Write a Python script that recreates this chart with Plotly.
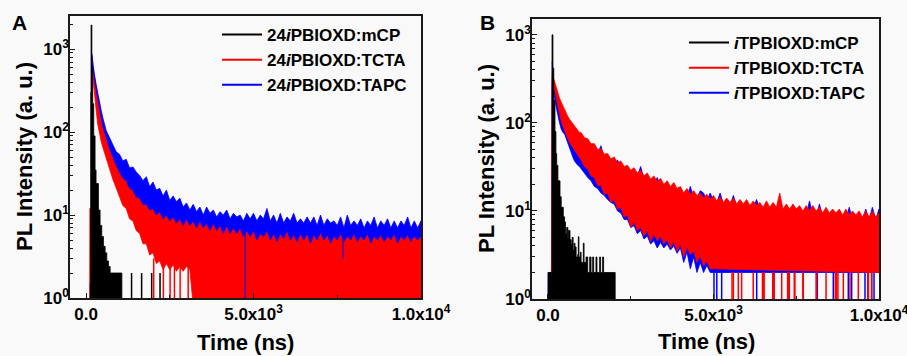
import plotly.graph_objects as go

FONT = "Liberation Sans, Arial, sans-serif"
RED, BLUE, BLACK = "#ff0000", "#0000ff", "#000000"
FLOOR = 0.8   # zero counts are drawn just below the 10^0 floor of the log axis
BG = "#f9f9f9"

# ---------------- Panel A : 24iPBIOXD ----------------
A_NAMES = ["24<i>i</i>PBIOXD:mCP", "24<i>i</i>PBIOXD:TCTA", "24<i>i</i>PBIOXD:TAPC"]
A_T_EARLY = [170, 200, 250, 300, 350, 400, 450, 500, 550, 600, 650, 700, 750, 800, 850, 900, 950]
A_T = A_T_EARLY + list(range(1000, 10001, 100))

# TAPC (blue) upper edge of noise band
A_TAPC_UP = [900, 700, 500, 380, 290, 225, 185, 150, 125, 105, 95, 85, 76, 70, 64, 58, 56,
             54, 45, 47, 37, 38, 33, 30, 26, 29, 22,
             25, 20, 21, 17, 20, 15, 17, 14.5, 16, 12.5,
             14, 11.5, 13.5, 11, 12.5, 10, 12.5, 10.5, 11.5, 9.5,
             11, 10, 11.5, 9, 10.5, 9.5, 10, 8.5, 10.5, 9,
             10.5, 8.5, 10, 9, 12, 8.5, 10, 8, 10.5, 8,
             9.5, 8.5, 10.5, 8, 9, 8, 9.5, 8, 9.5, 7.5,
             10, 7.5, 9, 8, 8.5, 7.5, 9.5, 7, 10, 7.5,
             8.5, 7.5, 9, 7, 8.5, 7.5, 9.5, 7, 8.5, 7.5,
             9, 7, 8.5, 7, 8.5, 7.5, 9.5, 7, 8.5, 7,
             8.5]
# boundary between the blue band (above) and the red band (below)
A_BOUNDARY = [850, 600, 450, 330, 250, 190, 150, 118, 100, 85, 74, 64, 56, 50, 45, 40, 36,
              33, 28, 26, 21, 20, 16.5, 16, 13.5, 13.5, 11.5,
              12, 10, 11, 9, 10, 8.5, 9.5, 8, 9, 7.5,
              9, 7.5, 8.5, 7, 8.5, 7, 8, 6.5, 8, 6.5,
              7.5, 6, 7.5, 6, 7, 6, 7, 5.5, 6.5, 5.5,
              6.5, 5, 6, 5.5, 6.5, 5, 6, 4.8, 6, 5.2,
              6.5, 5, 5.8, 4.8, 6, 5, 6, 4.6, 5.8, 5,
              6.2, 5, 5.8, 4.6, 5.6, 5, 6, 4.8, 5.6, 5,
              6, 4.8, 5.6, 5, 6, 4.6, 5.6, 5, 5.8, 4.8,
              5.6, 5, 6, 4.6, 5.6, 5, 5.8, 4.8, 5.6, 5,
              5.6]
# TCTA (red) rise and lower edge
A_TCTA_PRE_T = [110, 115, 155]
A_TCTA_PRE_V = [0, 12, 12]
A_TCTA_LO_T = [165] + A_T_EARLY + list(range(1000, 3201, 100)) + [10000]
A_TCTA_LO = [0,
             800, 480, 300, 190, 125, 95, 78, 66, 56, 48, 41, 36, 31, 27, 24, 21, 19,
             17, 13, 12, 9, 8.5, 6.5, 6, 4.5, 4.5, 3.3,
             3.5, 2.6, 2.8, 2.2, 2.6, 2.2, 2.5, 2.1, 2.4, 2.1,
             2.4, 2.2, 0,
             0]
A_TCTA_ZERO_T = [2020, 2310, 2510, 2640, 2810, 3050]
A_TCTA_ZERO_TOP = [3, 2.5, 2.4, 2.4, 2.4, 2.3]
A_TAPC_DIP_T = [4750, 7670]
A_TAPC_DIP_TOP = [6, 5.5]
A_TAPC_DIP_LO = [0, 3]
# mCP (black)
A_MCP_T = [100, 125, 140, 150, 175, 200, 230, 270, 300, 370, 420, 470, 520, 570, 620, 670, 720, 1060, 1070]
A_MCP_V = [0, 1.5, 300, 1950, 600, 220, 90, 35, 24, 11.5, 7.5, 5.5, 4.2, 3.5, 2.8, 2.4, 2, 2, 0]
A_MCP_SPIKE_T = [1360, 1660, 1960, 2210]
A_MCP_SPIKE_V = [2, 2, 2, 2]

# ---------------- Panel B : iTPBIOXD ----------------
B_NAMES = ["<i>i</i>TPBIOXD:mCP", "<i>i</i>TPBIOXD:TCTA", "<i>i</i>TPBIOXD:TAPC"]
B_T_EARLY = [130, 160, 200, 250, 300, 350, 400, 450, 500, 550, 600, 650, 700, 750, 800, 850, 900, 950]
B_T = B_T_EARLY + list(range(1000, 10001, 100))
B_T_LO = [125] + B_T_EARLY + list(range(1000, 5001, 100)) + [10000]

B_TCTA_PRE_T = [100, 110, 125]
B_TCTA_PRE_V = [0, 6, 6]
B_TCTA_UP = [370, 330, 290, 250, 215, 190, 172, 155, 140, 128, 118, 110, 104, 98, 92, 87, 82, 78,
             78, 68, 66, 58, 58, 50, 51, 44, 45, 39,
             41, 35, 37, 32, 33, 29, 31, 27, 29, 25,
             27, 23, 25, 21.5, 23.5, 20, 22, 19, 21, 18,
             19, 16, 18, 15.5, 17, 15, 16, 14, 15.5, 13.5,
             15, 13, 14.5, 12.5, 14, 12.5, 14, 12, 13.5, 12,
             13.5, 11.5, 13, 11.5, 12.5, 11, 13, 11, 12.5, 11,
             16, 10.5, 12, 10.5, 12, 10.5, 11.5, 10, 11.5, 10,
             11.5, 10, 11, 9.5, 11, 9.5, 10.5, 9.5, 10.5, 9,
             10.5, 9, 10, 9, 10, 8.5, 10, 8.5, 10, 8.5,
             9.5]
B_TCTA_LO = [0,
             320, 280, 240, 190, 150, 125, 105, 92, 82, 73, 66, 60, 56, 53, 49, 46, 43, 40,
             38, 32, 30, 25, 24, 19.5, 19.5, 15.5, 16, 12.5,
             13.5, 10.5, 11, 8.5, 9, 6.5, 7.5, 6, 6.5, 5.2,
             6, 4.5, 5.5, 4.6, 5.2, 4.2, 4.8, 3.8, 4.5, 3.5,
             4.2, 3, 3.9, 3.2, 3.5, 2.6, 3.1, 2.4, 2.7, 2.2,
             2.2,
             2]
B_TCTA_ZERO_T = [5560, 5600, 5750, 5850, 6200, 6480, 6505, 6530, 6790, 6807, 6830, 7060, 7240, 7260,
                 7290, 7440, 7460, 7700, 7713, 8100, 8118, 8400, 8680, 8720, 8760, 8922, 9124,
                 9375, 9660, 9677, 9778]

B_TAPC_PRE_T = [0, 5, 110, 120]
B_TAPC_PRE_V = [0, 2, 2, 2]
B_TAPC_UP = [500, 260, 240, 210, 180, 160, 140, 125, 112, 102, 94, 86, 80, 75, 70, 66, 62, 60,
             58, 56, 52, 50, 47, 44, 55, 40, 38, 36,
             34, 38, 31, 30, 28, 27, 26, 25, 32, 23,
             22, 21, 20, 24, 19, 18, 17.5, 17, 16.5, 16,
             15.5, 15, 14.5, 19, 14, 14, 17, 16, 13, 16,
             13, 12.5, 16, 12, 12, 11.5, 15, 11.5, 11, 11,
             11, 10.5, 10.5, 13.5, 10.5, 10, 10, 10, 10, 10,
             9.5, 9.5, 9.5, 9.5, 9.5, 9, 9, 9, 9, 13,
             9, 8.5, 12, 8.5, 8.5, 8.5, 8.5, 8, 8, 8,
             8, 11, 8, 8, 8, 8, 10.5, 8, 11, 8,
             10.5]
B_TAPC_LO = [0,
             280, 230, 190, 150, 120, 100, 85, 78, 75, 68, 60, 52, 46, 41, 37, 35, 33, 32,
             31, 27, 24, 22, 19, 18, 16, 15, 13.5, 12.5,
             12, 10, 9.5, 8, 8, 6.5, 6.8, 5.5, 6, 4.8,
             5.2, 4.2, 4.6, 3.8, 4.4, 3.8, 4.2, 3.6, 4, 3.3,
             3.8, 2.6, 3.4, 2.2, 3, 2, 2.6, 2, 2.4, 2,
             2,
             2]
B_TAPC_ZERO_T = [5015, 5100, 5247, 6305, 6828, 8136, 8620, 9073, 9174, 9577, 9677, 9778, 9850]

B_MCP_T = [0, 5, 100, 110, 122, 135, 150, 175, 211, 240,
           262, 300, 363, 400, 463, 500, 530, 564, 600, 620,
           665, 700, 730, 760, 790, 816, 850, 900, 916, 935,
           980, 1000, 1067, 1090, 1150, 1200, 1260, 1300, 1350, 1380,
           1450, 1480, 1560, 1590, 1650, 1680, 2024, 2030]
B_MCP_V = [0, 2, 2, 1.5, 1000, 1000, 420, 180, 80, 45,
           33, 22, 14.5, 11, 8.6, 7.5, 5.5, 6.5, 5, 6,
           4.7, 4.2, 5, 3.6, 4.3, 3.9, 3, 3.2, 5.1, 3,
           3.4, 2.6, 4.3, 2.6, 3, 2, 3, 2, 3, 2,
           3, 2, 3, 2, 3, 2, 2, 0]

# ---------------- axis ticks / titles ----------------
X_TITLE = "Time (ns)"
Y_TITLE = "PL Intensity (a. u.)"
X_TICKS = [0, 5000, 10000]
X_TICKTEXT = ["0.0", "5.0x10<sup>3</sup>", "1.0x10<sup>4</sup>"]
X_MINOR = [2500, 7500]
Y_TICKS = [1, 10, 100, 1000]
Y_TICKTEXT = ["10<sup>0</sup>", "10<sup>1</sup>", "10<sup>2</sup>", "10<sup>3</sup>"]
Y_MINOR = [2, 3, 4, 5, 6, 7, 8, 9, 20, 30, 40, 50, 60, 70, 80, 90,
           200, 300, 400, 500, 600, 700, 800, 900, 2000]

for arr_t, arr_v in [(A_T, A_TAPC_UP), (A_T, A_BOUNDARY), (A_TCTA_LO_T, A_TCTA_LO),
                     (B_T, B_TCTA_UP), (B_T_LO, B_TCTA_LO), (B_T, B_TAPC_UP), (B_T_LO, B_TAPC_LO),
                     (B_MCP_T, B_MCP_V), (A_MCP_T, A_MCP_V)]:
    assert len(arr_t) == len(arr_v), (len(arr_t), len(arr_v))


def clip(vals):
    return [v if v > 0 else FLOOR for v in vals]


def band(t_up, v_up, t_lo, v_lo):
    return list(t_up) + list(t_lo)[::-1], clip(list(v_up) + list(v_lo)[::-1])


def spikes(ts, tops, lows):
    xs, ys = [], []
    for t, a, b in zip(ts, tops, lows):
        xs += [t, t, None]
        ys += [a, b if b > 0 else FLOOR, None]
    return xs, ys


fig = go.Figure()


def add_poly(x, y, color, xa, ya, shape="linear"):
    fig.add_trace(go.Scatter(x=x, y=y, mode="lines", fill="toself", fillcolor=color,
                             line=dict(color=color, width=0.8, shape=shape),
                             showlegend=False, hoverinfo="skip", xaxis=xa, yaxis=ya))


def add_spikes(ts, tops, lows, color, xa, ya, width=1.5):
    x, y = spikes(ts, tops, lows)
    fig.add_trace(go.Scatter(x=x, y=y, mode="lines", line=dict(color=color, width=width),
                             showlegend=False, hoverinfo="skip", xaxis=xa, yaxis=ya))


# ---- Panel A traces ----
x, y = band(A_TCTA_PRE_T + A_T, A_TCTA_PRE_V + A_BOUNDARY, A_TCTA_LO_T, A_TCTA_LO)
add_poly(x, y, RED, "x", "y")
add_spikes(A_TCTA_ZERO_T, A_TCTA_ZERO_TOP, [0] * len(A_TCTA_ZERO_T), RED, "x", "y")
x, y = band(A_T, A_TAPC_UP, A_T, A_BOUNDARY)
add_poly(x, y, BLUE, "x", "y")
add_spikes(A_TAPC_DIP_T, A_TAPC_DIP_TOP, A_TAPC_DIP_LO, BLUE, "x", "y", 1.0)
add_poly(A_MCP_T, clip(A_MCP_V), BLACK, "x", "y", "hv")
add_spikes(A_MCP_SPIKE_T, A_MCP_SPIKE_V, [0] * len(A_MCP_SPIKE_T), BLACK, "x", "y")

# ---- Panel B traces ----
x, y = band(B_TAPC_PRE_T + B_T, B_TAPC_PRE_V + B_TAPC_UP, B_T_LO, B_TAPC_LO)
add_poly(x, y, BLUE, "x2", "y2")
add_spikes(B_TAPC_ZERO_T, [2] * len(B_TAPC_ZERO_T), [0] * len(B_TAPC_ZERO_T), BLUE, "x2", "y2")
x, y = band(B_TCTA_PRE_T + B_T, B_TCTA_PRE_V + B_TCTA_UP, B_T_LO, B_TCTA_LO)
add_poly(x, y, RED, "x2", "y2")
add_spikes(B_TCTA_ZERO_T, [2] * len(B_TCTA_ZERO_T), [0] * len(B_TCTA_ZERO_T), RED, "x2", "y2")
add_poly(B_MCP_T, clip(B_MCP_V), BLACK, "x2", "y2", "hv")

# ---- legend entries ----
for names, lg, xa, ya in [(A_NAMES, "legend", "x", "y"), (B_NAMES, "legend2", "x2", "y2")]:
    for name, col in zip(names, [BLACK, RED, BLUE]):
        fig.add_trace(go.Scatter(x=[None], y=[None], mode="lines", name=name,
                                 line=dict(color=col, width=2), legend=lg, xaxis=xa, yaxis=ya))

tickfont = dict(size=17, family=FONT, color="black", weight="bold")
titlefont = dict(size=22, family=FONT, color="black", weight="bold")


def xaxis(domain, rng, anchor):
    return dict(domain=domain, range=rng, anchor=anchor, automargin=False, showline=True,
                mirror=True, linecolor="#1a1a1a", linewidth=1.5, ticks="inside", ticklen=5,
                tickwidth=1.2, tickcolor="#1a1a1a", showgrid=False, zeroline=False,
                tickmode="array", tickvals=X_TICKS, ticktext=X_TICKTEXT, tickfont=tickfont,
                ticklabelstandoff=0, ticklabeloverflow="allow",
                minor=dict(tickmode="array", tickvals=X_MINOR, ticks="inside", ticklen=3,
                           tickcolor="#1a1a1a", showgrid=False))


def yaxis(domain, rng, anchor):
    return dict(domain=domain, range=rng, type="log", anchor=anchor, automargin=False,
                showline=True, mirror=True, linecolor="#1a1a1a", linewidth=1.5, ticks="inside",
                ticklen=5, tickwidth=1.2, tickcolor="#1a1a1a", showgrid=False, zeroline=False,
                tickmode="array", tickvals=Y_TICKS, ticktext=Y_TICKTEXT, tickfont=tickfont,
                ticklabelstandoff=-4, ticklabeloverflow="allow",
                minor=dict(tickmode="array", tickvals=Y_MINOR, ticks="inside", ticklen=3,
                           tickcolor="#1a1a1a", showgrid=False))


W, H = 907, 356
legfont = dict(size=17, family=FONT, color="black", weight="bold")


def title_ann(text, xpx, ypx, angle=0):
    return dict(text=text, x=xpx / W, y=1 - ypx / H, xref="paper", yref="paper",
                xanchor="center", yanchor="middle", textangle=angle, showarrow=False,
                font=titlefont)


fig.update_layout(
    width=W, height=H, margin=dict(l=0, r=0, t=0, b=0, autoexpand=False),
    paper_bgcolor=BG, plot_bgcolor=BG,
    xaxis=xaxis([70 / W, 421 / W], [-478, 10000], "y"),
    yaxis=yaxis([1 - 298 / H, 1 - 16 / H], [0, 3.4], "x"),
    xaxis2=xaxis([532 / W, 879 / W], [-483, 10000], "y2"),
    yaxis2=yaxis([1 - 299 / H, 1 - 19 / H], [0, 3.18], "x2"),
    legend=dict(x=217 / W, y=1 - 17 / H, xanchor="left", yanchor="top", bgcolor="rgba(0,0,0,0)",
                font=legfont, tracegroupgap=0, itemwidth=40),
    legend2=dict(x=684 / W, y=1 - 25 / H, xanchor="left", yanchor="top", bgcolor="rgba(0,0,0,0)",
                 font=legfont, tracegroupgap=0, itemwidth=40),
    annotations=[
        dict(text="<b>A</b>", x=19 / W, y=1 - 22 / H, xref="paper", yref="paper",
             xanchor="center", yanchor="middle", showarrow=False,
             font=dict(size=21, family=FONT, color="black")),
        dict(text="<b>B</b>", x=487 / W, y=1 - 22 / H, xref="paper", yref="paper",
             xanchor="center", yanchor="middle", showarrow=False,
             font=dict(size=21, family=FONT, color="black")),
        title_ann(Y_TITLE, 24, 157, -90),
        title_ann(Y_TITLE, 487, 159, -90),
        title_ann(X_TITLE, 245, 342),
        title_ann(X_TITLE, 706, 341),
    ],
)

fig.write_html("out.html", config={"displayModeBar": False},
               post_script="document.body.style.margin='0px';document.body.style.overflow='hidden';")
